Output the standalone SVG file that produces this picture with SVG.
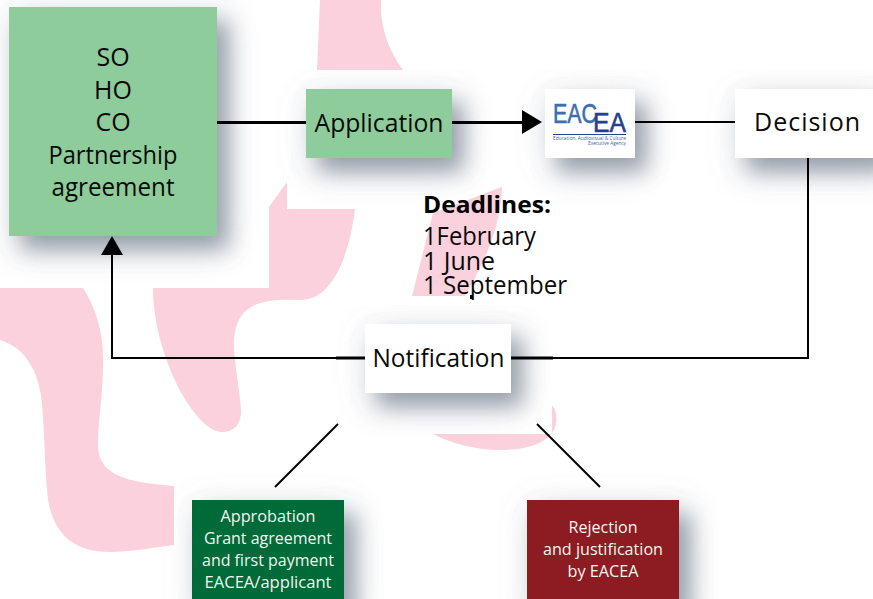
<svg xmlns="http://www.w3.org/2000/svg" width="873" height="599" viewBox="0 0 873 599">
<style>
.bg{fill:#fad1dc}
.l{fill:none;stroke:#000;stroke-width:2}
.t{stroke-width:3}
text{font-family:"Open Sans","Noto Sans","Liberation Sans",sans-serif;fill:#0a0a0a;text-anchor:middle}
.m{font-size:25px}
.s{font-size:16px;fill:#f4f4f0}
.logo{font-family:"Liberation Sans",sans-serif;text-anchor:start;font-size:28px;stroke-width:.6}
.tiny{font-size:5.500px;fill:#3b5fa0}
</style>
<defs>
<filter id="sh" x="-40%" y="-40%" width="190%" height="220%">
<feGaussianBlur in="SourceAlpha" stdDeviation="11" result="b"/>
<feOffset in="b" dx="12" dy="14" result="o"/>
<feFlood flood-color="#5f6b7c" flood-opacity=".58"/>
<feComposite in2="o" operator="in" result="s1"/>
<feGaussianBlur in="SourceAlpha" stdDeviation="18" result="b2"/>
<feOffset in="b2" dx="5" dy="9" result="o2"/>
<feFlood flood-color="#7a8494" flood-opacity=".25"/>
<feComposite in2="o2" operator="in" result="s2"/>
<feMerge><feMergeNode in="s2"/><feMergeNode in="s1"/><feMergeNode in="SourceGraphic"/></feMerge>
</filter>
</defs>
<rect width="873" height="599" fill="#fff"/>
<g id="background">
<path class="bg" d="M320 0H381C380 30 390 52 403 70H317Z"/>
<path class="bg" d="M0 288H83C97 310 104 335 103 365C103 395 98 420 98 445C98 475 125 482 174 486V545C150 548 130 552 110 552C70 552 50 530 47 490C44 455 45 430 41 395C36 365 22 347 0 340Z"/>
<path class="bg" d="M153 288H269V207L287 182V209H355C350 250 335 300 300 300C262 298 234 303 234 345C234 365 241 395 241 412C241 425 233 432 222 432C195 432 153 355 153 288Z"/>
<path class="bg" d="M433 213L502 187C501 230 480 270 465 296H412Z"/>
<path class="bg" d="M433 434H552V405C558 412 558 425 552 433C540 447 520 450 500 450C475 450 450 443 433 434Z"/>
</g>
<g id="partners">
<rect x="9" y="7" width="208" height="229" fill="#8fcc9b" filter="url(#sh)"/>
<text class="m" x="113" y="66">SO</text>
<text class="m" x="113" y="98.500">HO</text>
<text class="m" x="113" y="131">CO</text>
<text class="m" x="113" y="164" textLength="129" lengthAdjust="spacingAndGlyphs">Partnership</text>
<text class="m" x="113" y="196" textLength="123" lengthAdjust="spacingAndGlyphs">agreement</text>
</g>
<g id="application">
<rect x="306" y="89" width="146" height="69" fill="#8fcc9b" filter="url(#sh)"/>
<text class="m" x="379" y="132" textLength="129" lengthAdjust="spacingAndGlyphs">Application</text>
</g>
<g id="eacea">
<rect x="545" y="89" width="90" height="69" fill="#fff" filter="url(#sh)"/>
<text class="logo" x="553" y="123" style="fill:#3b6fb0;stroke:#3b6fb0" textLength="44" lengthAdjust="spacingAndGlyphs">EAC</text>
<text class="logo" x="593" y="132" style="fill:#24408e;stroke:#24408e" textLength="33" lengthAdjust="spacingAndGlyphs">EA</text>
<rect x="553" y="134" width="73" height="1" fill="#24408e"/>
<text class="tiny" x="553" y="140" style="text-anchor:start" textLength="73" lengthAdjust="spacingAndGlyphs">Education, Audiovisual &amp; Culture</text>
<text class="tiny" x="626" y="145" style="text-anchor:end" textLength="38" lengthAdjust="spacingAndGlyphs">Executive Agency</text>
</g>
<g id="decision">
<rect x="735" y="89" width="146" height="69" fill="#fff" filter="url(#sh)"/>
<text class="m" x="807" y="131" textLength="106" lengthAdjust="spacing">Decision</text>
</g>
<g id="deadlines">
<text x="423" y="213" style="text-anchor:start;font-size:24px;font-weight:700;fill:#000" textLength="128" lengthAdjust="spacingAndGlyphs">Deadlines:</text>
<text class="m" x="423" y="245" style="text-anchor:start" textLength="113" lengthAdjust="spacingAndGlyphs">1February</text>
<text class="m" x="423" y="270" style="text-anchor:start" textLength="72" lengthAdjust="spacingAndGlyphs">1 June</text>
<text class="m" x="423" y="294" style="text-anchor:start" textLength="144" lengthAdjust="spacingAndGlyphs">1 September</text>
<rect x="470" y="295" width="3" height="4" fill="#000"/>
</g>
<g id="notification">
<rect x="365" y="324" width="146" height="69" fill="#fff" filter="url(#sh)"/>
<text class="m" x="438.500" y="367" textLength="132" lengthAdjust="spacingAndGlyphs">Notification</text>
</g>
<g id="approbation">
<rect x="192" y="500" width="152" height="110" fill="#056a37" filter="url(#sh)"/>
<text class="s" x="268" y="522" textLength="95" lengthAdjust="spacingAndGlyphs">Approbation</text>
<text class="s" x="268" y="544" textLength="128" lengthAdjust="spacingAndGlyphs">Grant agreement</text>
<text class="s" x="268" y="566" textLength="132" lengthAdjust="spacingAndGlyphs">and first payment</text>
<text class="s" x="268" y="588" textLength="127" lengthAdjust="spacingAndGlyphs">EACEA/applicant</text>
</g>
<g id="rejection">
<rect x="527" y="500" width="152" height="110" fill="#8d1a20" filter="url(#sh)"/>
<text class="s" x="603" y="533" textLength="69" lengthAdjust="spacingAndGlyphs">Rejection</text>
<text class="s" x="603" y="555" textLength="120" lengthAdjust="spacingAndGlyphs">and justification</text>
<text class="s" x="603" y="577" textLength="71" lengthAdjust="spacingAndGlyphs">by EACEA</text>
</g>
<g id="connectors">
<path class="l t" d="M217 122.500H306"/>
<path class="l t" d="M452 122.500H526"/>
<path d="M522 110L542 122 522 134Z"/>
<path class="l" d="M635 122H735"/>
<path class="l" d="M808 158V358H511"/>
<path class="l t" d="M511 358H553"/>
<path class="l" d="M365 358H112V250"/>
<path class="l t" d="M365 358H336"/>
<path d="M101 255L112 236 123 255Z"/>
<path class="l" d="M338 424L275 487"/>
<path class="l" d="M537 424L600 487"/>
</g>
</svg>
